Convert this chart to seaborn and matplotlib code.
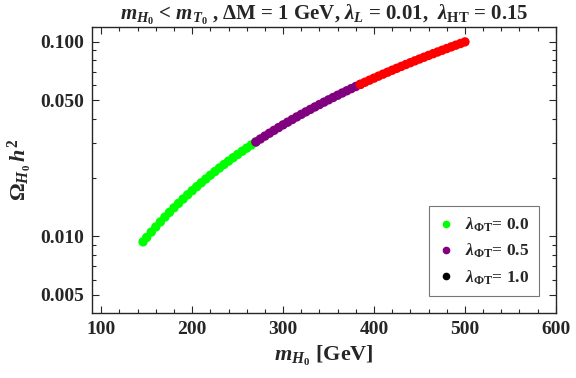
import pandas as pd
import matplotlib
matplotlib.use("Agg")
import matplotlib.pyplot as plt
import matplotlib.ticker as mticker
from matplotlib.lines import Line2D
import seaborn as sns

# -------------------------------
# Data
# -------------------------------
m_green = [146, 150, 155, 160, 165, 170, 175, 180, 185, 190, 195, 200, 205,
           210, 215, 220, 225, 230, 235, 240, 245, 250, 255, 260, 265, 270]
omega_green = [0.00937, 0.00987, 0.01051, 0.01117, 0.01185, 0.01255, 0.01327,
               0.01401, 0.01476, 0.01554, 0.01633, 0.01715, 0.01798, 0.01883,
               0.01970, 0.02059, 0.02150, 0.02243, 0.02337, 0.02433, 0.02532,
               0.02632, 0.02734, 0.02837, 0.02943, 0.03050]

m_purple = [270, 275, 280, 285, 290, 295, 300, 305, 310, 315, 320, 325, 330,
            335, 340, 345, 350, 355, 360, 365, 370, 375, 380, 385]
omega_purple = [0.03050, 0.03160, 0.03271, 0.03384, 0.03499, 0.03616, 0.03735,
                0.03855, 0.03977, 0.04102, 0.04228, 0.04355, 0.04485, 0.04616,
                0.04749, 0.04884, 0.05021, 0.05160, 0.05300, 0.05443, 0.05587,
                0.05733, 0.05880, 0.06029]

m_red = [385, 390, 395, 400, 405, 410, 415, 420, 425, 430, 435, 440, 445, 450,
         455, 460, 465, 470, 475, 480, 485, 490, 495, 500]
omega_red = [0.06029, 0.06181, 0.06334, 0.06488, 0.06645, 0.06803, 0.06963,
             0.07125, 0.07289, 0.07454, 0.07622, 0.07791, 0.07961, 0.08134,
             0.08308, 0.08485, 0.08662, 0.08842, 0.09024, 0.09208, 0.09393,
             0.09580, 0.09768, 0.09958]

lam_labels = ["0.0", "0.5", "1.0"]
point_colors = {"0.0": "#00ff00", "0.5": "#800080", "1.0": "#ff0000"}
legend_colors = ["#00ff00", "#800080", "#000000"]

df = pd.concat([
    pd.DataFrame({"m": m_green, "omega": omega_green, "lam": "0.0"}),
    pd.DataFrame({"m": m_purple, "omega": omega_purple, "lam": "0.5"}),
    pd.DataFrame({"m": m_red, "omega": omega_red, "lam": "1.0"}),
])

# -------------------------------
# Style
# -------------------------------
sns.set_style("ticks")
plt.rcParams["font.family"] = ["Liberation Serif", "DejaVu Serif"]
plt.rcParams["font.weight"] = "bold"
plt.rcParams["mathtext.fontset"] = "custom"
plt.rcParams["mathtext.rm"] = "Liberation Serif:bold"
plt.rcParams["mathtext.it"] = "Liberation Serif:italic:bold"
plt.rcParams["mathtext.bf"] = "Liberation Serif:bold"

fig, ax = plt.subplots(figsize=(5.76, 3.78), dpi=100)
fig.subplots_adjust(left=0.160, right=0.965, top=0.929, bottom=0.172)

sns.scatterplot(data=df, x="m", y="omega", hue="lam", palette=point_colors,
                s=46, linewidth=0, legend=False, ax=ax)

ax.set_yscale("log")
ax.set_xlim(90, 600)
ax.set_ylim(0.00404, 0.119)

ax.set_xticks([100, 200, 300, 400, 500, 600])
ax.xaxis.set_minor_locator(mticker.MultipleLocator(20))
ax.set_yticks([0.005, 0.01, 0.05, 0.1])
ax.yaxis.set_major_formatter(mticker.FuncFormatter(lambda v, p: f"{v:.3f}"))
ax.yaxis.set_minor_locator(mticker.LogLocator(base=10, subs=range(2, 10)))
ax.yaxis.set_minor_formatter(mticker.NullFormatter())

ax.tick_params(which="both", direction="in", top=True, right=True, width=0.8)
ax.tick_params(which="major", length=5, labelsize=14, pad=6)
ax.tick_params(which="minor", length=3)
for lab in ax.get_xticklabels() + ax.get_yticklabels():
    lab.set_fontweight("bold")
for sp in ax.spines.values():
    sp.set_linewidth(1.0)

ax.set_xlabel(r"$m_{H_0}$ [GeV]", fontsize=16, fontweight="bold", labelpad=4)
ax.set_ylabel(r"$\Omega_{H_0}\, h^2$", fontsize=16, fontweight="bold", labelpad=4)
ax.set_title(r"$m_{H_0}$ < $m_{T_0}$ , ΔM = 1 GeV, $\lambda_L$ = 0.01,  $\lambda_{\rm HT}$ = 0.15",
             fontsize=15, fontweight="bold", pad=4)

handles = [Line2D([], [], marker="o", linestyle="", color=c, markersize=4.5)
           for c in legend_colors]
labels = [r"$\lambda_{\Phi \rm T}$= " + v for v in lam_labels]
leg = ax.legend(handles, labels, loc="lower right", bbox_to_anchor=(0.963, 0.059),
                frameon=True, fancybox=False, edgecolor="#555555",
                labelspacing=0.45, handlelength=0.8, handletextpad=0.7,
                borderpad=0.55, borderaxespad=0.0,
                prop={"size": 12.5, "weight": "bold"})
leg.get_frame().set_linewidth(0.8)

plt.savefig("out.png", dpi=100)
